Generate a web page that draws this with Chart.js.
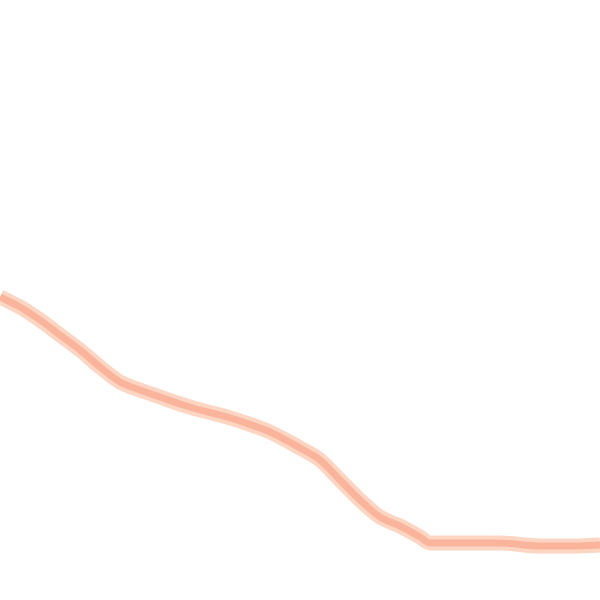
<!DOCTYPE html>
<html>
<head>
<meta charset="utf-8">
<script src="https://cdn.jsdelivr.net/npm/chart.js@4.4.0/dist/chart.umd.min.js"></script>
<style>
  html, body { margin: 0; padding: 0; background: #fff; }
  #wrap { width: 600px; height: 600px; }
</style>
</head>
<body>
<div id="wrap"><canvas id="lineChart"></canvas></div>
<script>
// values
const xValues = [0, 20, 40, 60, 80, 100, 120, 140, 160, 180, 200, 220, 240, 270, 300, 320, 340, 360, 380, 400, 420, 430, 450, 500, 540, 570, 600];
const yValues = [303, 293, 280, 265, 250, 233, 218, 210, 203, 196, 190, 185, 179, 168, 152, 140, 120, 100, 83, 74, 63, 57, 57, 57, 54, 54, 55];

document.addEventListener('DOMContentLoaded', () => {
    const points = xValues.map((x, i) => ({ x: x, y: yValues[i] }));
    const ctx = document.getElementById('lineChart').getContext('2d');
    new Chart(ctx, {
        type: 'line',
        data: {
            datasets: [
                // core drawn on top (lower order = drawn last)
                { data: points, borderColor: '#fbb49c', borderWidth: 7, pointRadius: 0, cubicInterpolationMode: 'monotone', fill: false, order: 0 },
                { data: points, borderColor: '#fdd6c3', borderWidth: 15, pointRadius: 0, cubicInterpolationMode: 'monotone', fill: false, order: 1 }
            ]
        },
        options: {
            responsive: true,
            maintainAspectRatio: false,
            animation: false,
            layout: { padding: 0 },
            plugins: { legend: { display: false }, tooltip: { enabled: false } },
            scales: {
                x: { type: 'linear', min: 0, max: 600, display: false },
                y: { min: 0, max: 600, display: false }
            }
        }
    });
});
</script>
</body>
</html>
